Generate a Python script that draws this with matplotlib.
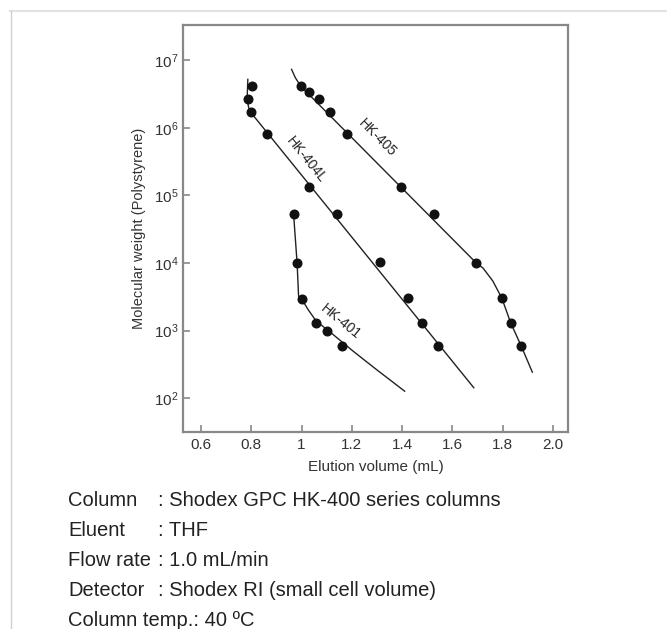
"""
GPC calibration curves for Shodex HK-400 series columns (polystyrene, THF).
"""

import matplotlib

matplotlib.use("Agg")
import matplotlib.pyplot as plt
from matplotlib.lines import Line2D
from matplotlib.ticker import LogLocator, NullLocator

plt.rcParams["font.family"] = ["Liberation Sans", "DejaVu Sans"]
plt.rcParams["mathtext.fontset"] = "custom"
plt.rcParams["mathtext.rm"] = "Liberation Sans"
plt.rcParams["mathtext.it"] = "Liberation Sans:italic"

# -- Data ---------------------------------------------------------------------

# HK-405
hk405_x = [0.997, 1.030, 1.069, 1.113, 1.180, 1.397, 1.527, 1.695, 1.797, 1.832, 1.874]
hk405_mw = [4.1e6, 3.4e6, 2.66e6, 1.7e6, 8.2e5, 1.33e5, 5.3e4, 1.0e4, 3.0e3, 1.3e3, 5.9e2]
hk405_curve_x = [0.960, 0.975, 0.997, 1.695, 1.722, 1.761, 1.797, 1.832, 1.874, 1.918]
hk405_curve_mw = [7.3e6, 5.5e6, 4.1e6, 1.0e4, 8.4e3, 5.4e3, 3.0e3, 1.3e3, 5.9e2, 2.43e2]

# HK-404L
hk404l_x = [0.801, 0.786, 0.797, 0.861, 1.030, 1.141, 1.311, 1.425, 1.479, 1.543]
hk404l_mw = [4.1e6, 2.7e6, 1.7e6, 8.1e5, 1.32e5, 5.3e4, 1.03e4, 3.0e3, 1.3e3, 5.9e2]
hk404l_curve_x = [0.786, 0.783, 0.790, 0.801, 1.685]
hk404l_curve_mw = [5.2e6, 2.6e6, 1.94e6, 1.63e6, 1.43e2]

# HK-401
hk401_x = [0.968, 0.981, 1.001, 1.057, 1.100, 1.160]
hk401_mw = [5.3e4, 1.0e4, 2.97e3, 1.3e3, 1.0e3, 5.9e2]
hk401_curve_x = [0.968, 0.982, 0.988, 1.006, 1.026, 1.057, 1.126, 1.205, 1.298, 1.410]
hk401_curve_mw = [5.3e4, 1.0e4, 3.2e3, 2.7e3, 2.04e3, 1.4e3, 8.7e2, 4.96e2, 2.65e2, 1.27e2]

# column labels: (text, x, mw, angle)
LABELS = [
    ("HK-405", 1.300, 7.0e5, -45),
    ("HK-404L", 1.018, 3.4e5, -51),
    ("HK-401", 1.156, 1.35e3, -39),
]

CONDITIONS = [
    ("Column", ": Shodex GPC HK-400 series columns"),
    ("Eluent", ": THF"),
    ("Flow rate", ": 1.0 mL/min"),
    ("Detector", ": Shodex RI (small cell volume)"),
]
LAST_CONDITION = "Column temp.: 40 \u00baC"

# -- Plot ---------------------------------------------------------------------

W, H = 667, 629
fig = plt.figure(figsize=(W / 100, H / 100), dpi=100)
fig.patch.set_facecolor("white")

# light frame lines around the content
fig.add_artist(Line2D([10 / W, 1], [1 - 11 / H] * 2, transform=fig.transFigure,
                      color="#e2e2e2", lw=1.5))
fig.add_artist(Line2D([11 / W] * 2, [0, 1 - 11 / H], transform=fig.transFigure,
                      color="#d0d0d0", lw=1.0))

ax = fig.add_axes([183 / W, 1 - 432 / H, (568 - 183) / W, (432 - 25) / H])

line_kw = dict(color="#222222", lw=1.0, zorder=2)
dot_kw = dict(ls="none", marker="o", ms=6.2, color="#111111", zorder=3)

ax.plot(hk405_curve_x, hk405_curve_mw, **line_kw)
ax.plot(hk405_x, hk405_mw, **dot_kw)
ax.plot(hk404l_curve_x, hk404l_curve_mw, **line_kw)
ax.plot(hk404l_x, hk404l_mw, **dot_kw)
ax.plot(hk401_curve_x, hk401_curve_mw, **line_kw)
ax.plot(hk401_x, hk401_mw, **dot_kw)

for text, x, y, ang in LABELS:
    ax.text(x, y, text, rotation=ang, ha="center", va="center",
            fontsize=10, color="#222222", rotation_mode="anchor")

ax.set_yscale("log")
ax.set_xlim(0.528, 2.06)
ax.set_ylim(10 ** 1.5, 10 ** 7.52)
ax.set_xticks([0.6, 0.8, 1.0, 1.2, 1.4, 1.6, 1.8, 2.0])
ax.set_xticklabels(["0.6", "0.8", "1", "1.2", "1.4", "1.6", "1.8", "2.0"])
ax.yaxis.set_major_locator(LogLocator(base=10, numticks=10))
ax.yaxis.set_minor_locator(NullLocator())

ax.tick_params(direction="in", length=5, width=1.2, color="#888888",
               labelsize=11, labelcolor="#333333", pad=4)
ax.tick_params(axis="y", pad=3)

for side in ["left", "right", "top", "bottom"]:
    ax.spines[side].set_color("#888888")
    ax.spines[side].set_linewidth(1.6)

ax.set_xlabel("Elution volume (mL)", fontsize=11, color="#333333", labelpad=6)
ax.set_ylabel("Molecular weight (Polystyrene)", fontsize=10.5, color="#333333",
              labelpad=6)

# measurement conditions below the chart
ys = [500, 531, 561, 590]
for (name, val), y in zip(CONDITIONS, ys):
    fig.text(68 / W, 1 - y / H, name, fontsize=14.5, color="#222222", va="center")
    fig.text(158 / W, 1 - y / H, val, fontsize=14.5, color="#222222", va="center")
fig.text(68 / W, 1 - 620 / H, LAST_CONDITION, fontsize=14.5, color="#222222",
         va="center")

plt.savefig("out.png", dpi=100)
plt.close()
